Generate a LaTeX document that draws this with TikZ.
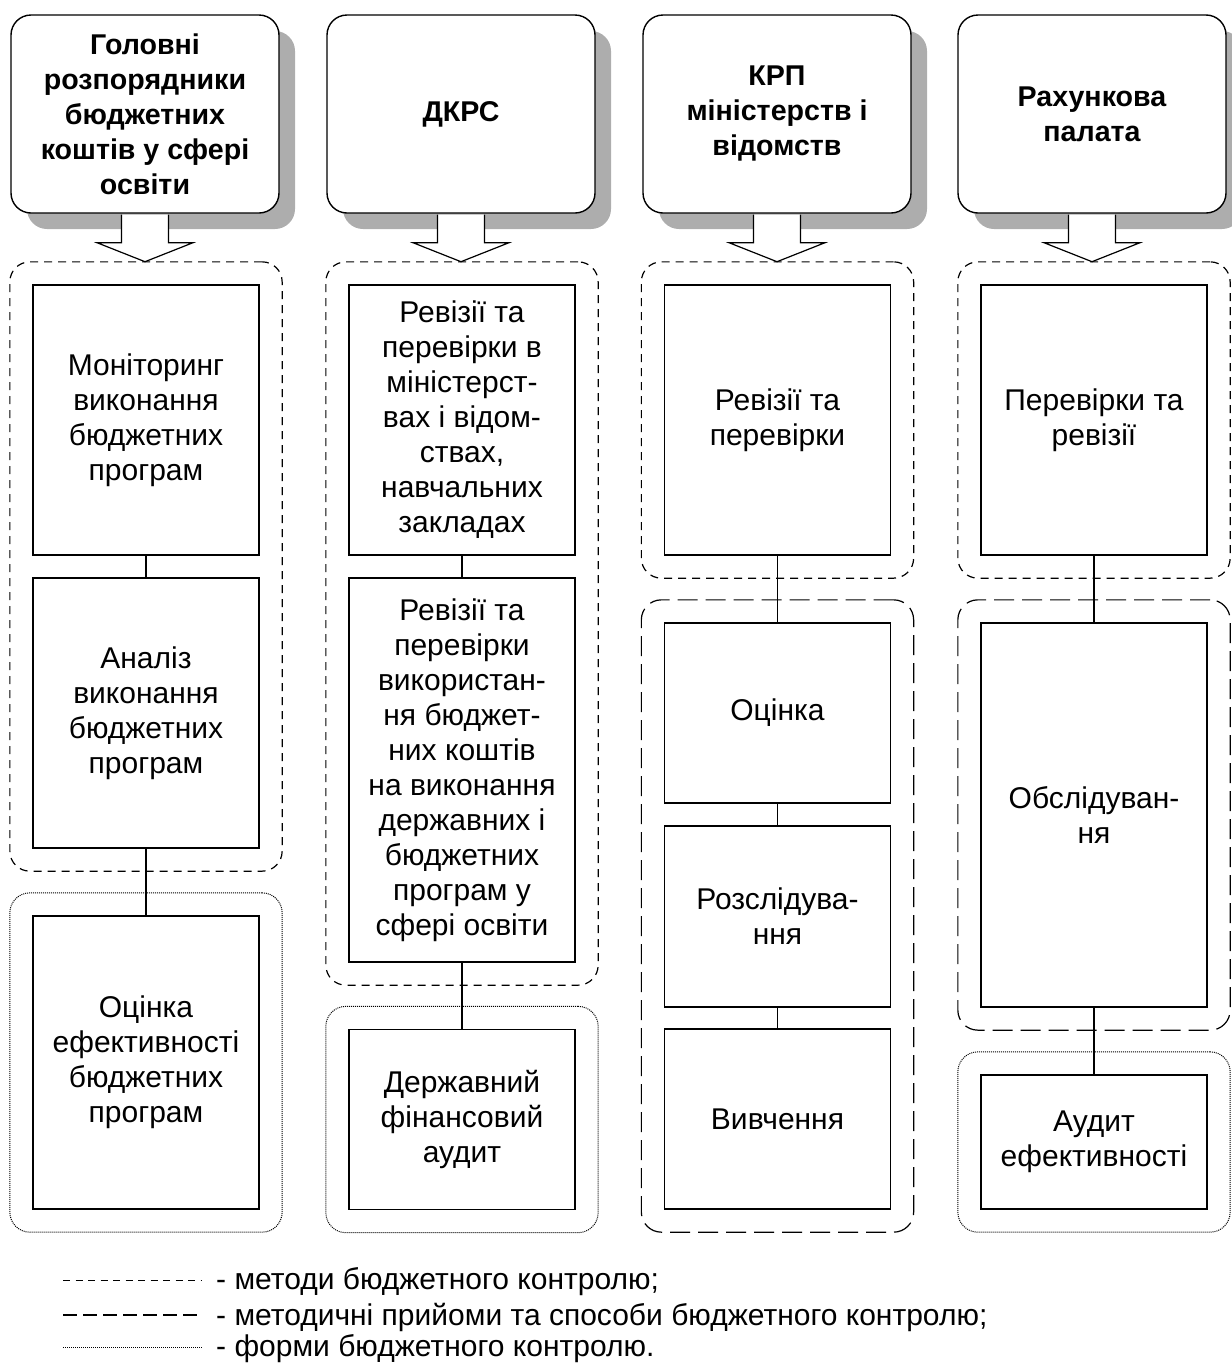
\documentclass[tikz,border=0pt]{standalone}
\usepackage{fontspec}
\setmainfont{Liberation Sans}
\usepackage{tikz}
\usetikzlibrary{calc,fit,shadows}

\begin{document}
\begin{tikzpicture}[x=1pt, y=-1pt,
    head/.style={draw, line width=1.4pt, rounded corners=20pt, fill=white,
        minimum width=268pt, minimum height=198pt, align=center,
        font=\fontsize{28.6}{35}\selectfont\bfseries,
        drop shadow={shadow xshift=16pt, shadow yshift=-16pt, opacity=1, fill=black!32}},
    box/.style={draw, line width=1.3pt, fill=white, minimum width=226pt, align=center,
        font=\fontsize{30}{35}\selectfont},
    lift/.style={execute at end node={\\[#1pt]\mbox{}}},
    meth/.style={draw, line width=1.2pt, rounded corners=20pt, dash pattern=on 8pt off 6pt, inner sep=22.5pt},
    tech/.style={draw, line width=1.2pt, rounded corners=20pt, dash pattern=on 20pt off 8pt, inner sep=22.5pt},
    form/.style={draw, line width=1pt, rounded corners=20pt, dash pattern=on 1pt off 1pt, inner sep=22.5pt},
    link/.style={line width=1.3pt},
    blockarrow/.style={draw, line width=1.2pt, fill=white},
    legend/.style={anchor=west, inner sep=0pt, font=\fontsize{30}{35}\selectfont}]

    \useasboundingbox (0,0) rectangle (1232,1366);

    % Draw control bodies
    \node[head] (h1) at (145,114) {Головні\\розпорядники\\бюджетних\\коштів у сфері\\освіти};
    \node[head] (h2) at (461,114) {ДКРС};
    \node[head, lift=-1] (h3) at (777,114) {КРП\\міністерств і\\відомств};
    \node[head] (h4) at (1092,114) {Рахункова\\палата};

    % Draw block arrows under the bodies
    \foreach \h in {h1,h2,h3,h4}
        \path[blockarrow] ($(\h.south)+(-23.5,1)$) -- ++(0,28) -- ++(-24.5,0)
            -- ++(48,19) -- ++(48,-19) -- ++(-24.5,0) -- ++(0,-28);

    % Column 1
    \node[box, minimum height=270pt, lift=-11] (b11) at (146,420) {Моніторинг\\виконання\\бюджетних\\програм};
    \node[box, minimum height=270pt, lift=-13] (b12) at (146,713) {Аналіз\\виконання\\бюджетних\\програм};
    \node[box, minimum height=293pt, lift=5] (b13) at (146,1062.5) {Оцінка\\ефективності\\бюджетних\\програм};

    % Column 2
    \node[box, minimum height=270pt] (b21) at (462,420) {Ревізії та\\перевірки в\\міністерст-\\вах і відом-\\ствах,\\навчальних\\закладах};
    \node[box, minimum height=384pt, lift=-13] (b22) at (462,770) {Ревізії та\\перевірки\\використан-\\ня бюджет-\\них коштів\\на виконання\\державних і\\бюджетних\\програм у\\сфері освіти};
    \node[box, minimum height=180pt] (b23) at (462,1119.5) {Державний\\фінансовий\\аудит};

    % Column 3
    \node[box, minimum height=270pt, lift=1] (b31) at (777.5,420) {Ревізії та\\перевірки};
    \node[box, minimum height=180pt] (b32) at (777.5,713) {Оцінка};
    \node[box, minimum height=181pt] (b33) at (777.5,916.5) {Розслідува-\\ння};
    \node[box, minimum height=180pt] (b34) at (777.5,1119) {Вивчення};

    % Column 4
    \node[box, minimum height=270pt, lift=1] (b41) at (1094,420) {Перевірки та\\ревізії};
    \node[box, minimum height=384pt, lift=15] (b42) at (1094,815) {Обслідуван-\\ня};
    \node[box, minimum height=134pt, lift=-15] (b43) at (1094,1142) {Аудит\\ефективності};

    % Draw groups
    \node[meth, fit=(b11)(b12)] (g11) {};
    \node[form, fit=(b13)] (g12) {};
    \node[meth, fit=(b21)(b22)] (g21) {};
    \node[form, fit=(b23)] (g22) {};
    \node[meth, fit=(b31)] (g31) {};
    \node[tech, fit=(b32)(b34)] (g32) {};
    \node[meth, fit=(b41)] (g41) {};
    \node[tech, fit=(b42)] (g42) {};
    \node[form, fit=(b43)] (g43) {};

    % Connect the boxes
    \draw[link] (b11) -- (b12);
    \draw[link] (b12) -- (b13);
    \draw[link] (b21) -- (b22);
    \draw[link] (b22) -- (b23);
    \draw[link] (b31) -- (b32);
    \draw[link] (b32) -- (b33);
    \draw[link] (b33) -- (b34);
    \draw[link] (b41) -- (b42);
    \draw[link] (b42) -- (b43);

    % Legend
    \node[legend] (l1) at (216,1282) {- методи бюджетного контролю;};
    \node[legend] (l2) at (216,1317) {- методичні прийоми та способи бюджетного контролю;};
    \node[legend] (l3) at (216,1349) {- форми бюджетного контролю.};
    \draw[line width=1pt, dash pattern=on 7pt off 5.5pt] ($(l1.west)+(-153,-2)$) -- ($(l1.west)+(-14,-2)$);
    \draw[line width=1.2pt, dash pattern=on 14pt off 6pt] ($(l2.west)+(-153,-2)$) -- ($(l2.west)+(-14,-2)$);
    \draw[line width=1pt, dash pattern=on 1pt off 1pt] ($(l3.west)+(-153,-2)$) -- ($(l3.west)+(-14,-2)$);
\end{tikzpicture}
\end{document}
